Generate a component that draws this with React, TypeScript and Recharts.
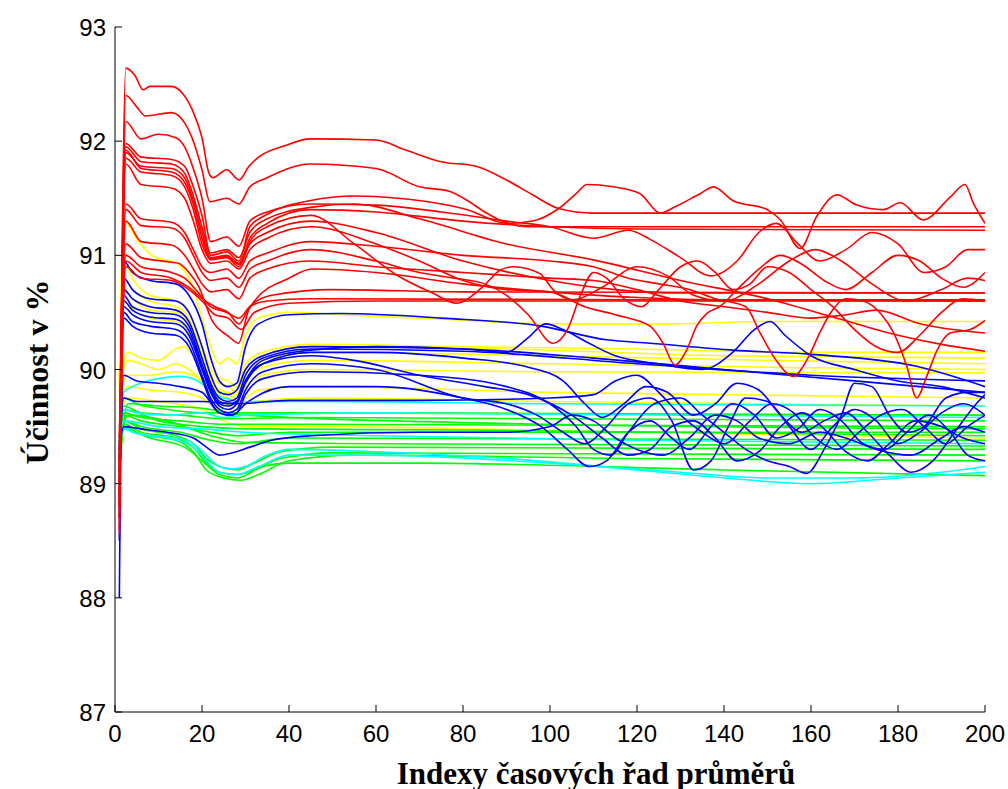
import { LineChart, Line, XAxis, YAxis } from "recharts";

type Pt = [number, number];

const xTicks = [0, 20, 40, 60, 80, 100, 120, 140, 160, 180, 200];
const yTicks = [87, 88, 89, 90, 91, 92, 93];

// each series: [index, efficiency %]
const redLines: Pt[][] = [
  [[1, 88.55], [2.5, 92.64], [4.5, 92.58], [6.5, 92.45], [8, 92.48], [13, 92.48], [15.5, 92.42], [17.7, 92.28], [20, 92.03], [21.6, 91.72], [22.5, 91.68], [25.7, 91.75], [28.5, 91.66], [30.8, 91.78], [33, 91.86], [39, 91.96], [45, 92.02], [60, 92.01], [67, 91.92], [75, 91.82], [83, 91.78], [90, 91.66], [96, 91.53], [102, 91.41], [110, 91.37], [200, 91.37]],
  [[1, 88.7], [2.5, 92.4], [5, 92.3], [7, 92.22], [13, 92.25], [16, 92.16], [18, 92.0], [20, 91.75], [21.8, 91.47], [25.7, 91.5], [28.5, 91.45], [31, 91.6], [35, 91.68], [45, 91.8], [60, 91.76], [70, 91.6], [77, 91.56], [81, 91.48], [85, 91.38], [89, 91.3], [95, 91.25], [200, 91.25]],
  [[1, 88.8], [2.5, 92.17], [6, 92.02], [10, 92.06], [14, 92.03], [16, 91.95], [18, 91.76], [20, 91.5], [22, 91.12], [25.7, 91.16], [28.5, 91.08], [31, 91.3], [35, 91.38], [45, 91.45], [60, 91.44], [75, 91.38], [90, 91.3], [100, 91.25], [110, 91.15], [118, 91.22], [123, 91.14], [130, 90.98], [137, 90.82], [143, 90.95], [148, 91.2], [152, 91.28], [157, 91.1], [162, 90.95], [168, 91.05], [174, 91.2], [180, 91.1], [186, 90.85], [191, 90.9], [196, 91.05], [200, 91.05]],
  [[1, 88.9], [2.5, 91.98], [6, 91.86], [13, 91.84], [16, 91.78], [18, 91.6], [20, 91.35], [22, 91.0], [25.7, 91.03], [28.5, 90.95], [31, 91.25], [35, 91.36], [45, 91.48], [55, 91.52], [65, 91.5], [81, 91.4], [90, 91.28], [96, 91.3], [102, 91.41], [106, 91.54], [108.5, 91.62], [114.5, 91.6], [120.7, 91.54], [125.3, 91.37], [129, 91.43], [134.5, 91.54], [137.6, 91.6], [142, 91.48], [150, 91.4], [153, 91.31], [157.5, 91.06], [161.3, 91.34], [166, 91.53], [170.5, 91.44], [176.6, 91.4], [180.5, 91.46], [185.8, 91.31], [192, 91.51], [195.4, 91.62], [197.3, 91.46], [200, 91.28]],
  [[1, 89.0], [2.5, 91.95], [6, 91.82], [13, 91.8], [16, 91.72], [18, 91.52], [20, 91.25], [22, 91.02], [25.7, 91.05], [28.5, 90.98], [31, 91.2], [35, 91.32], [45, 91.42], [55, 91.45], [70, 91.32], [90, 91.1], [110, 90.96], [130, 90.78], [150, 90.62], [165, 90.46], [180, 90.3], [190, 90.22], [200, 90.16]],
  [[1, 89.1], [2.5, 91.9], [6, 91.78], [13, 91.76], [16, 91.68], [18, 91.48], [20, 91.2], [22, 90.98], [25.7, 91.0], [28.5, 90.93], [31, 91.15], [35, 91.28], [45, 91.4], [60, 91.38], [80, 91.3], [100, 91.25], [120, 91.23], [200, 91.22]],
  [[1, 89.2], [2.5, 91.92], [6, 91.76], [13, 91.73], [16, 91.64], [18, 91.45], [20, 91.15], [22, 90.96], [25.7, 90.98], [28.5, 90.9], [31, 91.12], [35, 91.25], [45, 91.35], [55, 91.1], [65.5, 90.81], [73, 90.67], [78.5, 90.58], [84.7, 90.73], [88.5, 90.87], [91.6, 90.9], [97.7, 90.84], [100.7, 90.7], [105.3, 90.61], [112, 90.72], [120, 90.9], [127, 90.82], [133, 90.65], [140, 90.6], [148, 90.75], [155, 90.95], [161, 91.05], [167, 90.95], [174, 90.75], [182, 90.6], [190, 90.7], [196, 90.8], [200, 90.78]],
  [[1, 89.3], [2.5, 91.85], [6, 91.73], [13, 91.7], [16, 91.6], [18, 91.4], [20, 91.1], [22, 90.97], [25.7, 90.99], [28.5, 90.92], [31, 91.1], [35, 91.2], [45, 91.3], [60, 91.2], [80, 90.95], [100, 90.78], [115, 90.7], [130, 90.67], [200, 90.67]],
  [[1, 88.8], [2.5, 91.8], [6, 91.62], [13, 91.59], [16, 91.5], [18, 91.3], [20, 91.05], [22, 90.93], [25.7, 90.95], [28.5, 90.88], [31, 91.05], [35, 91.15], [45, 91.25], [60, 91.1], [70, 90.95], [80, 90.78], [90, 90.7], [100, 90.68], [108, 90.55], [115, 90.48], [123, 90.38], [126, 90.23], [128.7, 90.04], [131.4, 90.17], [133.7, 90.38], [136, 90.49], [139, 90.55], [143, 90.7], [148, 90.88], [153, 91.0], [158, 90.92], [163, 90.78], [168, 90.7], [174, 90.85], [180, 91.0], [185, 90.95], [190, 90.8], [195, 90.72], [200, 90.85]],
  [[1, 89.0], [2.5, 91.45], [6, 91.32], [13, 91.29], [16, 91.2], [18, 91.05], [20, 90.9], [22, 90.85], [25.7, 90.88], [28.5, 90.8], [31, 90.95], [35, 91.02], [45, 91.12], [60, 91.08], [80, 91.0], [100, 90.95], [110, 90.9], [118, 90.8], [125, 90.75], [132, 90.7], [138, 90.62], [145, 90.55], [148.3, 90.32], [152, 90.08], [156, 89.94], [159, 90.08], [162, 90.32], [164.4, 90.49], [168, 90.62], [172, 90.6], [176, 90.49], [179, 90.32], [182, 90.03], [184.3, 89.75], [186.6, 89.94], [189, 90.17], [192, 90.32], [196.6, 90.35], [200, 90.43]],
  [[1, 88.9], [2.5, 91.4], [6, 91.26], [13, 91.24], [16, 91.15], [18, 91.0], [20, 90.85], [22, 90.78], [25.7, 90.8], [28.5, 90.72], [31, 90.88], [35, 90.95], [45, 91.05], [60, 90.95], [70, 90.85], [78, 90.8], [85, 90.75], [90, 90.65], [95, 90.48], [100.7, 90.23], [104, 90.35], [107, 90.65], [110, 90.85], [113, 90.8], [117, 90.62], [121, 90.55], [125, 90.7], [130, 90.9], [134, 90.95], [138, 90.85], [142, 90.7], [146, 90.75], [150, 90.9], [155, 90.85], [160, 90.7], [165, 90.55], [170, 90.35], [175, 90.2], [180, 90.15], [185, 90.3], [190, 90.5], [195, 90.62], [200, 90.6]],
  [[1, 89.1], [2.5, 91.3], [6, 91.12], [13, 91.09], [16, 91.0], [18, 90.88], [20, 90.75], [22, 90.68], [25.7, 90.7], [28.5, 90.62], [31, 90.8], [35, 90.88], [45, 90.95], [60, 90.9], [80, 90.85], [100, 90.8], [110, 90.78], [120, 90.7], [130, 90.6], [140, 90.55], [150, 90.5], [160, 90.45], [168, 90.48], [175, 90.52], [185, 90.4], [200, 90.32]],
  [[1, 88.6], [2.5, 91.1], [6, 90.98], [13, 90.94], [14.6, 90.93], [17, 90.85], [19.2, 90.73], [22.3, 90.43], [26.1, 90.29], [28.4, 90.23], [30.7, 90.52], [32.3, 90.61], [40, 90.8], [45.3, 90.88], [60, 90.85], [80, 90.75], [100, 90.68], [120, 90.63], [140, 90.61], [200, 90.61]],
  [[1, 88.7], [2.5, 91.0], [6, 90.9], [13, 90.85], [16, 90.8], [19, 90.68], [22, 90.55], [25.7, 90.5], [28.5, 90.45], [31, 90.55], [35, 90.6], [45, 90.62], [200, 90.6]],
  [[1, 89.2], [2.5, 90.95], [6, 90.85], [13, 90.8], [17, 90.72], [20, 90.62], [23, 90.55], [26, 90.5], [28.5, 90.4], [31, 90.55], [36, 90.65], [50, 90.7], [80, 90.68], [200, 90.67]],
  [[1, 89.4], [2.5, 90.9], [6, 90.8], [13, 90.78], [17, 90.7], [20, 90.6], [23, 90.48], [26, 90.45], [29, 90.35], [32, 90.5], [40, 90.58], [60, 90.6], [200, 90.6]],
];

const yellowLines: Pt[][] = [
  [[1, 89.9], [2, 91.3], [5.4, 91.12], [8.5, 91.0], [14.6, 90.92], [17.7, 90.74], [20, 90.45], [22, 90.2], [24, 90.05], [26, 90.1], [28, 90.05], [30, 90.3], [33, 90.45], [40, 90.5], [52, 90.48], [75, 90.44], [100, 90.4], [127, 90.4], [150, 90.42], [200, 90.42]],
  [[1, 89.85], [2, 90.95], [4, 90.8], [8, 90.65], [14, 90.6], [17, 90.5], [20, 90.2], [23, 89.95], [26, 89.9], [28, 89.85], [30, 90.05], [34, 90.15], [45, 90.22], [80, 90.2], [120, 90.18], [160, 90.15], [200, 90.15]],
  [[1, 89.9], [2, 90.8], [4, 90.7], [8, 90.6], [14, 90.55], [17, 90.45], [20, 90.15], [23, 89.9], [26, 89.85], [28, 89.8], [30, 90.0], [34, 90.12], [45, 90.2], [90, 90.18], [140, 90.12], [200, 90.1]],
  [[1, 89.95], [2, 90.7], [4, 90.62], [8, 90.52], [14, 90.5], [17, 90.4], [20, 90.1], [23, 89.85], [26, 89.8], [28, 89.78], [30, 89.95], [34, 90.08], [45, 90.15], [100, 90.12], [150, 90.08], [200, 90.05]],
  [[1, 89.8], [2, 90.6], [5, 90.5], [8, 90.45], [14, 90.42], [17, 90.32], [20, 90.05], [23, 89.82], [26, 89.75], [28, 89.72], [30, 89.9], [34, 90.02], [45, 90.08], [100, 90.05], [150, 90.02], [200, 90.0]],
  [[1, 89.9], [3, 90.15], [6, 90.1], [10, 90.08], [14, 90.18], [16, 90.2], [18, 90.12], [20, 90.0], [23, 89.85], [26, 89.78], [28, 89.75], [30, 89.85], [34, 89.95], [45, 90.0], [100, 89.98], [200, 89.97]],
  [[1, 89.85], [3, 90.08], [6, 90.05], [10, 90.0], [14, 90.05], [17, 90.0], [20, 89.9], [23, 89.75], [26, 89.7], [29, 89.72], [33, 89.82], [45, 89.85], [100, 89.8], [200, 89.75]],
  [[1, 89.8], [3, 89.95], [8, 89.95], [14, 89.98], [18, 89.95], [21, 89.85], [25, 89.72], [28, 89.68], [32, 89.72], [45, 89.75], [100, 89.72], [200, 89.68]],
  [[1, 89.7], [3, 89.85], [8, 89.82], [15, 89.8], [20, 89.75], [25, 89.62], [30, 89.6], [40, 89.62], [200, 89.6]],
  [[1, 89.6], [3, 89.75], [10, 89.72], [20, 89.65], [25, 89.55], [30, 89.5], [45, 89.5], [120, 89.45], [200, 89.4]],
];

const blueLines: Pt[][] = [
  [[1, 88.0], [2, 90.95], [4, 90.85], [8, 90.78], [14, 90.75], [17, 90.65], [20, 90.4], [22, 90.1], [24, 89.9], [26, 89.85], [28, 89.88], [30, 90.2], [33, 90.4], [40, 90.48], [52, 90.49], [75, 90.45], [98, 90.38], [113, 90.26], [123, 90.23], [142, 90.17], [161, 90.13], [184, 90.03], [200, 89.85]],
  [[1, 88.5], [2, 90.8], [4, 90.7], [8, 90.62], [14, 90.6], [17, 90.5], [20, 90.2], [22, 89.95], [24, 89.8], [26, 89.78], [28, 89.82], [30, 90.0], [34, 90.12], [45, 90.2], [80, 90.18], [110, 90.1], [140, 90.0], [170, 89.9], [200, 89.8]],
  [[1, 88.8], [2, 90.7], [4, 90.62], [8, 90.55], [14, 90.52], [17, 90.42], [20, 90.1], [22, 89.88], [24, 89.75], [26, 89.72], [28, 89.75], [30, 89.95], [34, 90.1], [45, 90.18], [80, 90.16], [120, 90.05], [160, 89.95], [200, 89.9]],
  [[1, 89.0], [2, 90.65], [4, 90.55], [8, 90.5], [14, 90.48], [17, 90.38], [20, 90.05], [22, 89.85], [24, 89.72], [26, 89.7], [28, 89.72], [30, 89.9], [34, 90.08], [45, 90.17], [60, 90.2], [80, 90.18], [90, 90.15], [95, 90.28], [99, 90.4], [103, 90.35], [108, 90.25], [115, 90.12], [125, 90.05], [135, 90.0], [142, 90.15], [147, 90.35], [150.6, 90.42], [154, 90.3], [160, 90.12], [170, 90.0], [180, 89.9], [190, 89.85], [200, 89.75]],
  [[1, 89.1], [2, 90.55], [4, 90.48], [8, 90.42], [14, 90.4], [17, 90.3], [20, 90.0], [22, 89.8], [24, 89.68], [26, 89.65], [28, 89.7], [30, 89.88], [34, 90.05], [45, 90.15], [60, 90.15], [80, 90.1], [95, 90.02], [103, 89.9], [108, 89.7], [112, 89.58], [117, 89.7], [122, 89.85], [127, 89.8], [133, 89.6], [138, 89.7], [143, 89.88], [148, 89.82], [153, 89.6], [158, 89.45], [163, 89.55], [168, 89.62], [173, 89.45], [178, 89.25], [183, 89.1], [188, 89.2], [193, 89.45], [198, 89.7], [200, 89.78]],
  [[1, 89.2], [2, 90.5], [4, 90.42], [8, 90.38], [14, 90.35], [17, 90.25], [20, 89.95], [22, 89.75], [24, 89.65], [26, 89.62], [28, 89.65], [30, 89.82], [34, 89.98], [45, 90.05], [60, 90.0], [80, 89.75], [90, 89.7], [97, 89.6], [103, 89.45], [108, 89.35], [113, 89.5], [118, 89.7], [123, 89.75], [128, 89.55], [133, 89.12], [137, 89.2], [141, 89.5], [145, 89.75], [150, 89.72], [155, 89.5], [160, 89.3], [165, 89.5], [170, 89.65], [175, 89.55], [180, 89.35], [185, 89.45], [190, 89.62], [195, 89.7], [200, 89.6]],
  [[1, 89.3], [2, 90.45], [4, 90.38], [8, 90.32], [14, 90.3], [17, 90.2], [20, 89.92], [22, 89.72], [24, 89.62], [26, 89.6], [28, 89.62], [30, 89.78], [34, 89.92], [45, 89.98], [70, 89.95], [90, 89.85], [100, 89.7], [106, 89.5], [110, 89.3], [114, 89.25], [118, 89.45], [124, 89.7], [130, 89.75], [135, 89.6], [140, 89.45], [145, 89.3], [150, 89.2], [155, 89.15], [159, 89.09], [163, 89.3], [167, 89.6], [170, 89.88], [174, 89.85], [178, 89.6], [182, 89.45], [186, 89.5], [191, 89.75], [196, 89.8], [200, 89.8]],
  [[1, 88.9], [2, 89.95], [5, 89.9], [10, 89.88], [15, 89.85], [20, 89.8], [24, 89.62], [27, 89.6], [30, 89.7], [40, 89.85], [60, 89.85], [80, 89.75], [90, 89.65], [98, 89.5], [104, 89.3], [109, 89.15], [113, 89.2], [118, 89.45], [123, 89.55], [128, 89.4], [132, 89.3], [137, 89.5], [142, 89.7], [147, 89.6], [152, 89.4], [157, 89.48], [162, 89.65], [167, 89.55], [172, 89.35], [177, 89.3], [182, 89.45], [187, 89.6], [192, 89.45], [196, 89.25], [200, 89.2]],
  [[1, 89.2], [2, 89.75], [5, 89.72], [20, 89.72], [28, 89.7], [40, 89.73], [70, 89.73], [100, 89.75], [110, 89.78], [115, 89.9], [120, 89.95], [125, 89.8], [130, 89.6], [135, 89.45], [140, 89.35], [146, 89.55], [151, 89.7], [156, 89.62], [161, 89.4], [166, 89.3], [171, 89.45], [176, 89.6], [181, 89.65], [186, 89.5], [191, 89.35], [196, 89.5], [200, 89.6]],
  [[1, 89.3], [2, 89.5], [6, 89.48], [12, 89.45], [18, 89.4], [21, 89.32], [24, 89.25], [27, 89.27], [31, 89.32], [36, 89.38], [45, 89.42], [70, 89.45], [90, 89.45], [100, 89.5], [105, 89.6], [110, 89.55], [115, 89.4], [120, 89.3], [126, 89.25], [132, 89.4], [138, 89.6], [143, 89.55], [148, 89.4], [155, 89.35], [162, 89.45], [168, 89.4], [175, 89.3], [183, 89.25], [190, 89.4], [195, 89.5], [200, 89.45]],
  [[1, 88.7], [2, 90.6], [4, 90.52], [8, 90.46], [14, 90.44], [17, 90.34], [20, 90.02], [22, 89.82], [24, 89.7], [26, 89.68], [28, 89.72], [30, 89.9], [34, 90.05], [45, 90.12], [55, 90.08], [70, 89.95], [85, 89.85], [95, 89.78], [105, 89.6], [112, 89.4], [118, 89.25], [123, 89.3], [128, 89.5], [133, 89.55], [138, 89.4], [143, 89.2], [148, 89.28], [153, 89.5], [158, 89.62], [163, 89.48], [168, 89.28], [173, 89.2], [178, 89.35], [184, 89.55], [190, 89.5], [195, 89.4], [200, 89.35]],
];

const cyanLines: Pt[][] = [
  [[1, 89.5], [2, 89.8], [4, 89.85], [10, 89.92], [15, 89.94], [19, 89.9], [22, 89.82], [25, 89.75], [30, 89.72], [45, 89.72], [100, 89.7], [200, 89.68]],
  [[1, 89.4], [2, 89.65], [5, 89.62], [12, 89.6], [20, 89.62], [25, 89.58], [30, 89.6], [60, 89.62], [200, 89.58]],
  [[1, 89.3], [2, 89.5], [4, 89.45], [8, 89.42], [14, 89.4], [18, 89.35], [21, 89.25], [24, 89.15], [27, 89.13], [30, 89.15], [35, 89.25], [40, 89.3], [60, 89.28], [90, 89.22], [120, 89.12], [140, 89.05], [160, 89.0], [180, 89.05], [200, 89.1]],
  [[1, 89.35], [2, 89.48], [5, 89.44], [12, 89.4], [18, 89.32], [21, 89.2], [24, 89.1], [28, 89.08], [33, 89.15], [40, 89.25], [60, 89.25], [100, 89.18], [130, 89.1], [150, 89.05], [170, 89.05], [190, 89.1], [200, 89.15]],
  [[1, 89.4], [2, 89.55], [10, 89.5], [20, 89.48], [30, 89.45], [60, 89.42], [120, 89.38], [200, 89.35]],
];

const greenLines: Pt[][] = [
  [[1, 89.4], [2, 89.75], [5, 89.7], [12, 89.65], [20, 89.62], [30, 89.62], [60, 89.62], [200, 89.6]],
  [[1, 89.35], [2, 89.68], [6, 89.62], [15, 89.6], [25, 89.57], [45, 89.58], [200, 89.55]],
  [[1, 89.3], [2, 89.62], [6, 89.58], [15, 89.55], [25, 89.52], [45, 89.52], [200, 89.5]],
  [[1, 89.25], [2, 89.6], [6, 89.55], [15, 89.5], [22, 89.45], [28, 89.42], [40, 89.45], [200, 89.45]],
  [[1, 89.2], [2, 89.55], [6, 89.5], [15, 89.45], [22, 89.38], [28, 89.35], [40, 89.4], [200, 89.38]],
  [[1, 89.1], [2, 89.55], [6, 89.48], [14, 89.42], [18, 89.35], [21, 89.22], [24, 89.15], [28, 89.12], [32, 89.18], [38, 89.28], [50, 89.32], [200, 89.3]],
  [[1, 89.0], [2, 89.52], [6, 89.45], [14, 89.4], [18, 89.32], [21, 89.18], [24, 89.1], [28, 89.08], [32, 89.12], [38, 89.22], [50, 89.27], [200, 89.25]],
  [[1, 89.05], [2, 89.5], [6, 89.43], [14, 89.38], [18, 89.28], [21, 89.12], [25, 89.05], [29, 89.03], [33, 89.08], [40, 89.2], [55, 89.25], [120, 89.22], [200, 89.2]],
  [[1, 89.1], [2, 89.48], [8, 89.4], [16, 89.32], [20, 89.2], [24, 89.08], [28, 89.05], [34, 89.15], [40, 89.18], [70, 89.18], [140, 89.12], [200, 89.07]],
  [[1, 89.3], [2, 89.65], [10, 89.55], [20, 89.5], [30, 89.48], [80, 89.47], [200, 89.42]],
  [[1, 89.2], [3, 89.7], [10, 89.68], [20, 89.66], [30, 89.6], [100, 89.52], [200, 89.48]],
  [[1, 89.35], [3, 89.6], [12, 89.55], [22, 89.42], [30, 89.36], [60, 89.35], [200, 89.33]],
];

// drawing order: later groups are painted on top
const groups = [
  { name: "yellow", color: "#ffff00", lines: yellowLines },
  { name: "green", color: "#00ff00", lines: greenLines },
  { name: "cyan", color: "#00ffff", lines: cyanLines },
  { name: "blue", color: "#0000ff", lines: blueLines },
  { name: "red", color: "#ff0000", lines: redLines },
];

const tickFont = { fontFamily: "Liberation Sans, Arial, sans-serif", fontSize: 24, fill: "#000" };

function XTick({ x, y, payload }: any) {
  return (
    <g>
      <line x1={x} x2={x} y1={y} y2={y - 7} stroke="#000" />
      <text x={x} y={y + 30} textAnchor="middle" {...tickFont}>
        {payload.value}
      </text>
    </g>
  );
}

function YTick({ x, y, payload }: any) {
  return (
    <g>
      <line x1={x} x2={x + 7} y1={y} y2={y} stroke="#000" />
      <text x={x - 9} y={y + 9} textAnchor="end" {...tickFont}>
        {payload.value}
      </text>
    </g>
  );
}

const titleFont = {
  position: "absolute" as const,
  fontFamily: "Liberation Serif, Times New Roman, serif",
  fontWeight: "bold" as const,
  fontSize: 31,
  color: "#000",
  whiteSpace: "nowrap" as const,
  lineHeight: 1,
};

export default function App() {
  return (
    <div style={{ position: "absolute", left: 0, top: 0, width: 1008, height: 789, background: "#fff" }}>
      <LineChart
        width={1008}
        height={789}
        margin={{ top: 27, right: 23, bottom: 37, left: 55 }}
      >
        <XAxis
          dataKey="x"
          type="number"
          domain={[0, 200]}
          ticks={xTicks}
          height={40}
          tickSize={0}
          tickMargin={0}
          tick={<XTick />}
          axisLine={{ stroke: "#000" }}
          allowDataOverflow
        />
        <YAxis
          type="number"
          domain={[87, 93]}
          ticks={yTicks}
          width={60}
          tickSize={0}
          tickMargin={0}
          tick={<YTick />}
          axisLine={{ stroke: "#000" }}
          allowDataOverflow
        />
        {groups.flatMap((g) =>
          g.lines.map((pts, i) => (
            <Line
              key={`${g.name}-${i}`}
              data={pts.map(([x, v]) => ({ x, v }))}
              dataKey="v"
              type="monotone"
              stroke={g.color}
              strokeWidth={1.6}
              dot={false}
              activeDot={false}
              isAnimationActive={false}
            />
          ))
        )}
      </LineChart>
      <div
        style={{
          ...titleFont,
          fontSize: 32,
          left: 37,
          top: 372,
          transform: "translate(-50%, -50%) rotate(-90deg)",
        }}
      >
        Účinnost v %
      </div>
      <div style={{ ...titleFont, left: 596, top: 773, transform: "translate(-50%, -50%)" }}>
        Indexy časových řad průměrů
      </div>
    </div>
  );
}
